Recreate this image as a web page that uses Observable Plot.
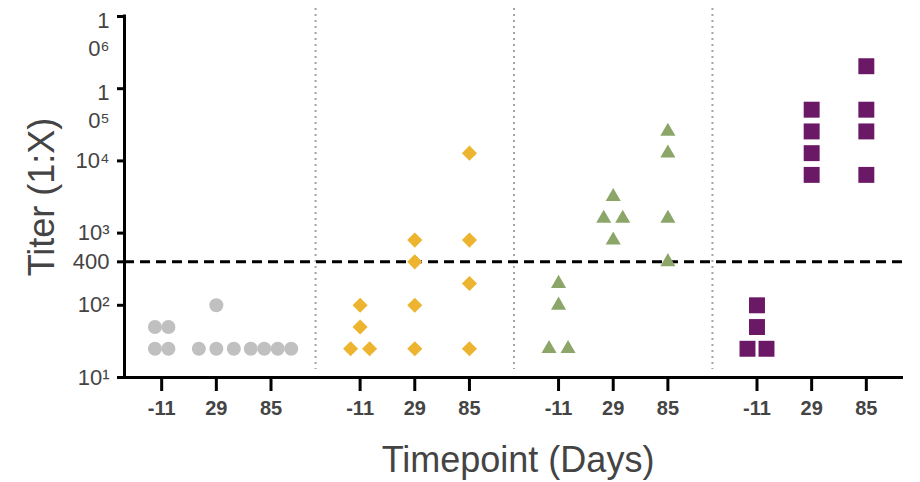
<!DOCTYPE html>
<html><head><meta charset="utf-8">
<script src="https://cdn.jsdelivr.net/npm/d3@7"></script>
<script src="https://cdn.jsdelivr.net/npm/@observablehq/plot@0.6"></script>
<style>html,body{margin:0;padding:0;background:#fff}svg{display:block}</style>
</head><body><div id="chart"></div>
<script>
// ---- data ----
const timepoints = [-11, 29, 85];
const groups = ["Group 1", "Group 2", "Group 3", "Group 4"];
// values per timepoint (-11, 29, 85)
const group1 = [[25, 25, 50, 50], [25, 25, 25, 100], [25, 25, 25, 25]];
const group2 = [[25, 25, 50, 100], [25, 100, 400, 800], [25, 200, 800, 12800]];
const group3 = [[25, 25, 100, 200], [800, 1600, 1600, 3200], [400, 1600, 12800, 25600]];
const group4 = [[25, 25, 50, 100], [6400, 12800, 25600, 51200], [6400, 25600, 51200, 204800]];
const threshold = 400;
const yTicks = [10, 100, 400, 1000, 10000];
const yTickLabels = ["10¹", "10²", "400", "10³", "10⁴"];
const yTicksWrapped = [100000, 1000000];
const yTickLabelsWrapped = ["1\n0⁵", "1\n0⁶"];
const xTitle = "Timepoint (Days)";
const yTitle = "Titer (1:X)";

// ---- layout helpers ----
const groupValues = [group1, group2, group3, group4];
const symbols = ["circle", "diamond2", "triangle", "square"];
const fills = ["#c0c0c0", "#ecb42f", "#8ca66a", "#6b1967"];
const radii = [7, 6.8, 5.6, 9];
const W = 920, H = 482, mL = 124, mR = 17, mT = 16, mB = 105;
const groupStep = 3.63, pad = 0.68;
const xMin = -pad, xMax = (groups.length - 1) * groupStep + (timepoints.length - 1) + pad;
const unitPx = (W - mL - mR) / (xMax - xMin);

const rows = [];
groupValues.forEach((g, gi) => {
  g.forEach((vals, ti) => {
    const base = gi * groupStep + ti;
    const counts = d3.rollup(vals, v => v.length, d => d);
    const seen = new Map();
    vals.forEach(v => {
      const n = counts.get(v);
      const k = seen.get(v) || 0; seen.set(v, k + 1);
      let sp = 19;
      if (gi === 0) sp = n === 3 ? 17.5 : 13.5;
      const off = (k - (n - 1) / 2) * sp;
      rows.push({group: groups[gi], gi, time: timepoints[ti], x: base + off / unitPx, value: v});
    });
  });
});

const xTickPos = [], xTickLab = new Map();
groups.forEach((g, gi) => timepoints.forEach((t, ti) => {
  const p = gi * groupStep + ti; xTickPos.push(p); xTickLab.set(p, String(t));
}));
const separators = groups.slice(1).map((g, i) => (i * groupStep + (timepoints.length - 1) + (i + 1) * groupStep) / 2);
const yLab = new Map(yTicks.map((t, i) => [t, yTickLabels[i]]));
const yLabW = new Map(yTicksWrapped.map((t, i) => [t, yTickLabelsWrapped[i]]));
const font = "'Liberation Sans', Arial, sans-serif";

const chart = Plot.plot({
  width: W, height: H, marginLeft: mL, marginRight: mR, marginTop: mT, marginBottom: mB,
  style: {fontFamily: font, color: "#444", background: "#fff"},
  x: {type: "linear", domain: [xMin, xMax], axis: null},
  y: {type: "log", domain: [10, 1e6], axis: null},
  marks: [
    Plot.ruleX(separators, {stroke: "#a3a3a3", strokeWidth: 2, strokeDasharray: "2,4", insetTop: -8, insetBottom: 8}),
    Plot.ruleY([threshold], {stroke: "#000", strokeWidth: 3, strokeDasharray: "10,6"}),
    ...groups.map((g, gi) => Plot.dot(rows.filter(d => d.gi === gi), {
      x: "x", y: "value", symbol: symbols[gi], fill: fills[gi], r: radii[gi], stroke: "none"
    })),
    // axis lines
    Plot.ruleX([xMin], {stroke: "#000", strokeWidth: 3, strokeLinecap: "square"}),
    Plot.ruleY([10], {stroke: "#000", strokeWidth: 3}),
    // y ticks + labels
    Plot.ruleY([...yTicks, ...yTicksWrapped], {y: d => d, x1: xMin, x2: xMin, insetLeft: -7, stroke: "#000", strokeWidth: 3}),
    Plot.text(yTicks, {x: xMin, y: d => d, text: d => yLab.get(d), textAnchor: "end", dx: -15, fontSize: 22, fill: "#444"}),
    Plot.text(yTicksWrapped, {x: xMin, y: d => d, text: d => yLabW.get(d), textAnchor: "end", lineAnchor: "top",
      lineHeight: 1.26, dx: -15, dy: -8, fontSize: 22, fill: "#444"}),
    // x ticks + labels
    Plot.ruleX(xTickPos, {x: d => d, y1: 10, y2: 10, insetBottom: -14, stroke: "#000", strokeWidth: 3}),
    Plot.text(xTickPos, {x: d => d, y: 10, text: d => xTickLab.get(d), lineAnchor: "top", dy: 23,
      fontSize: 20, fontWeight: "bold", fill: "#444"}),
    // titles
    Plot.text([yTitle], {text: d => d, frameAnchor: "left", textAnchor: "middle", lineAnchor: "middle",
      rotate: -90, dx: -82, fontSize: 36, fill: "#444"}),
    Plot.text([xTitle], {text: d => d, frameAnchor: "bottom", textAnchor: "middle", lineAnchor: "middle",
      dy: 83, dx: 4, fontSize: 36, fill: "#444"})
  ]
});
document.getElementById("chart").appendChild(chart);
</script>
</body></html>
